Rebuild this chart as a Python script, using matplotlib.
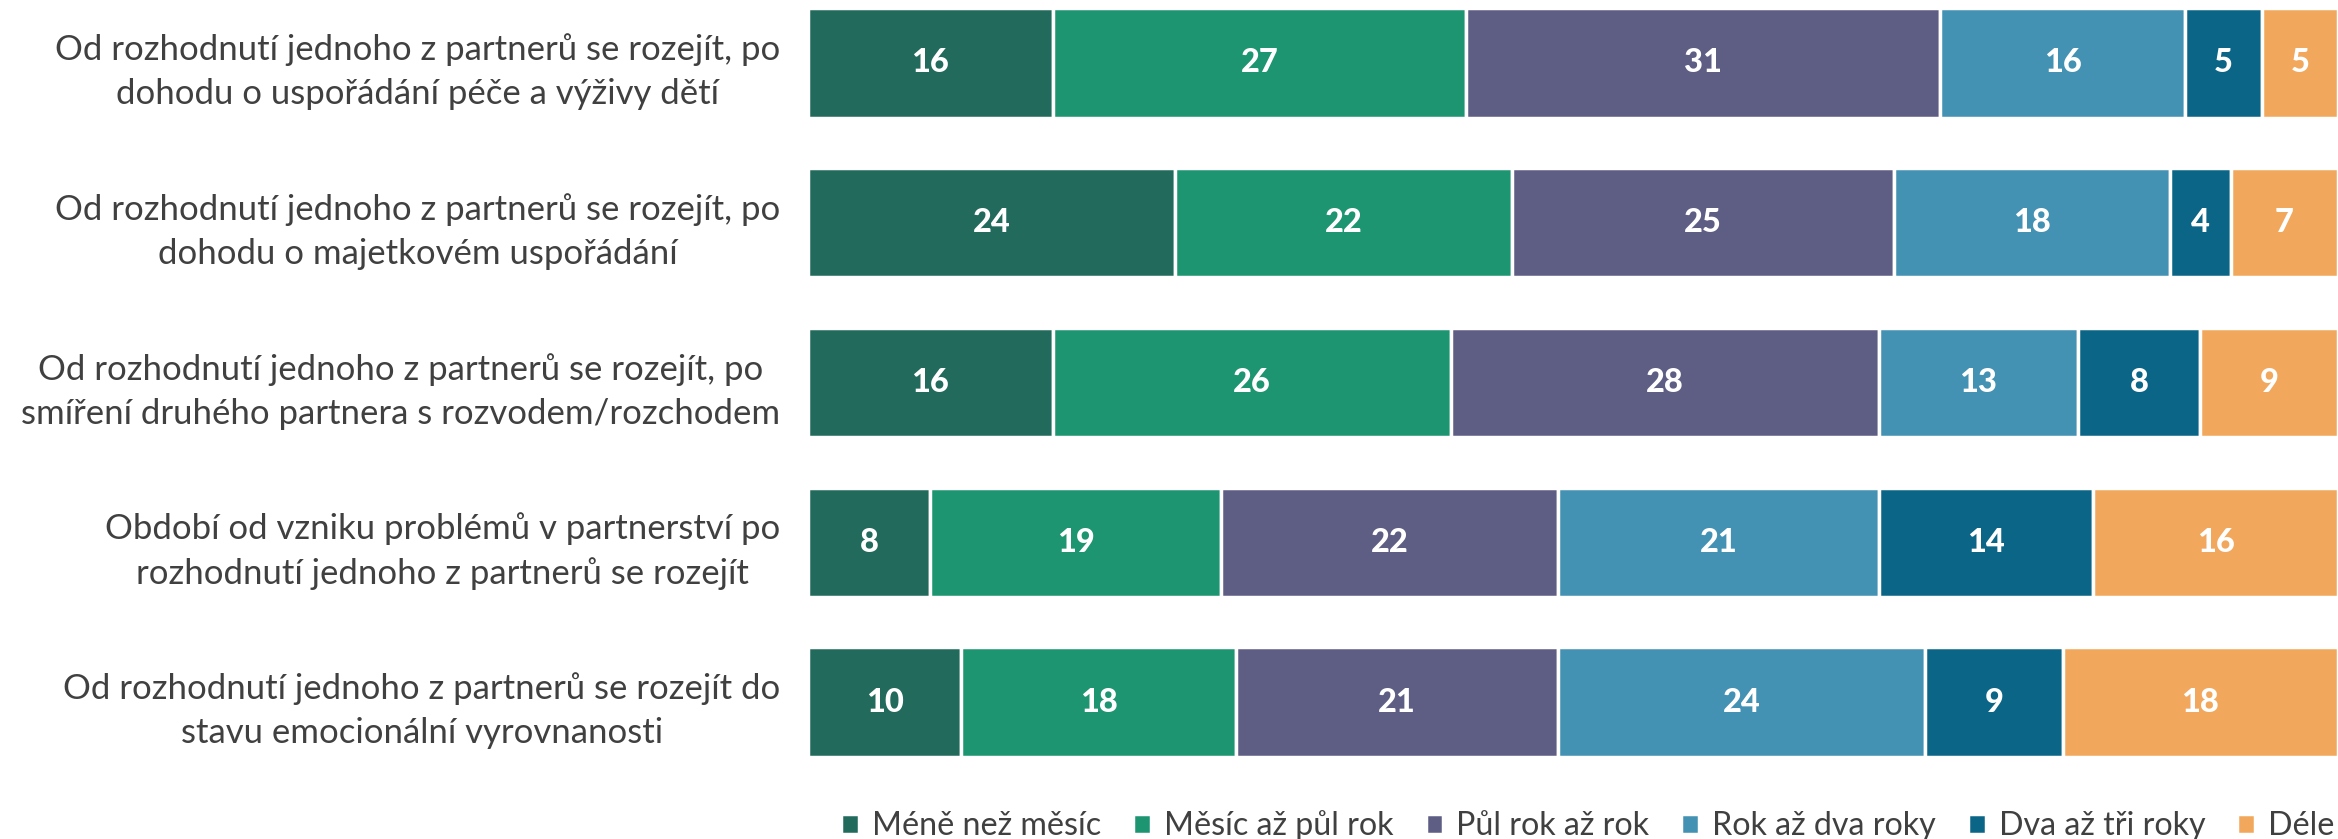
import numpy as np
import matplotlib.pyplot as plt

plt.rcParams['font.family'] = ['Lato', 'DejaVu Sans']

categories = [
    'Od rozhodnutí jednoho z partnerů se rozejít, po\ndohodu o uspořádání péče a výživy dětí',
    'Od rozhodnutí jednoho z partnerů se rozejít, po\ndohodu o majetkovém uspořádání',
    'Od rozhodnutí jednoho z partnerů se rozejít, po\nsmíření druhého partnera s rozvodem/rozchodem',
    'Období od vzniku problémů v partnerství po\nrozhodnutí jednoho z partnerů se rozejít',
    'Od rozhodnutí jednoho z partnerů se rozejít do\nstavu emocionální vyrovnanosti',
]
series = ['Méně než měsíc', 'Měsíc až půl rok', 'Půl rok až rok',
          'Rok až dva roky', 'Dva až tři roky', 'Déle']
mene_nez_mesic = [16, 24, 16, 8, 10]
mesic_az_pul_rok = [27, 22, 26, 19, 18]
pul_rok_az_rok = [31, 25, 28, 22, 21]
rok_az_dva_roky = [16, 18, 13, 21, 24]
dva_az_tri_roky = [5, 4, 8, 14, 9]
dele = [5, 7, 9, 16, 18]
values = [mene_nez_mesic, mesic_az_pul_rok, pul_rok_az_rok,
          rok_az_dva_roky, dva_az_tri_roky, dele]
colors = ['#216A5C', '#1C9570', '#5E5E85', '#4391B3', '#0B6587', '#F2A85C']

fig = plt.figure(figsize=(23.38, 8.39), dpi=100)
ax = fig.add_axes([808 / 2338, 1 - 760 / 839, 1 - 808 / 2338, 760 / 839])

y = np.arange(len(categories))
left = np.zeros(len(categories))
for name, vals, col in zip(series, values, colors):
    vals = np.array(vals, dtype=float)
    ax.barh(y, vals, left=left, height=0.685, color=col,
            edgecolor='white', linewidth=2.5, label=name)
    for yi, l, v in zip(y, left, vals):
        ax.text(l + v / 2, yi, '%d' % v, ha='center', va='center',
                color='white', fontsize=23.5, fontweight='black')
    left += vals

ax.set_xlim(0, 100)
ax.set_ylim(4.363, -0.394)
ax.set_yticks(y)
ax.set_yticklabels(categories, fontsize=25, color='#404040',
                   multialignment='center', linespacing=1.45)
ax.tick_params(axis='y', length=0, pad=20)
ax.set_xticks([])
for s in ax.spines.values():
    s.set_visible(False)

fig.legend(loc='center right', bbox_to_anchor=(1.004, 1 - 826 / 839), ncol=6,
           frameon=False, fontsize=23.2, labelcolor='#404040',
           handlelength=0.55, handleheight=0.6, handletextpad=0.4,
           columnspacing=1.0, borderaxespad=0)

fig.savefig('out.png', dpi=100, facecolor='white')
